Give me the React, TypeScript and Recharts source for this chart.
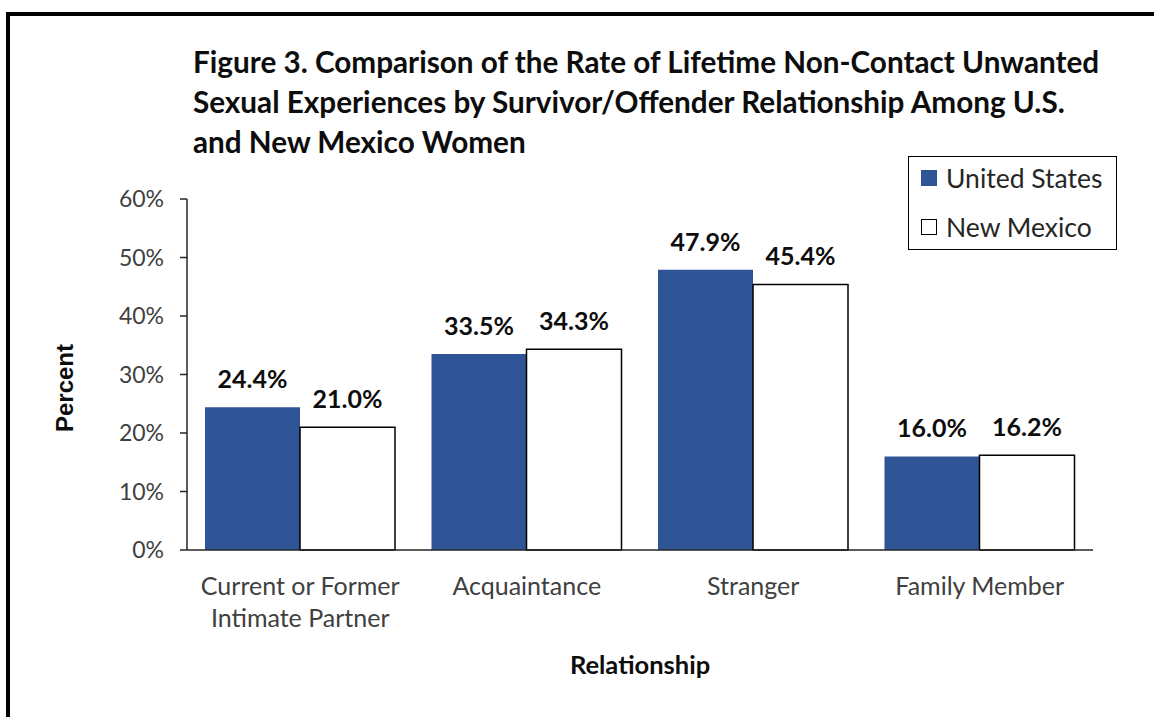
import { BarChart, Bar, XAxis, YAxis, LabelList } from "recharts";

// Figure 3 — lifetime non-contact unwanted sexual experiences, US vs NM women

const categories = [
  "Current or Former\nIntimate Partner",
  "Acquaintance",
  "Stranger",
  "Family Member",
];
const unitedStates = [24.4, 33.5, 47.9, 16.0];
const newMexico = [21.0, 34.3, 45.4, 16.2];
const yTicks = [0, 10, 20, 30, 40, 50, 60];
const edgeTicks = [0, 1, 2, 3, 4];

const titleLines = [
  "Figure 3. Comparison of the Rate of Lifetime Non-Contact Unwanted",
  "Sexual Experiences by Survivor/Offender Relationship Among U.S.",
  "and New Mexico Women",
];

const US_BLUE = "#2F5597";
const AXIS = "#262626";
const FONT = "Lato, 'Open Sans', sans-serif";

const data = categories.map((name, i) => ({
  name,
  us: unitedStates[i],
  nm: newMexico[i],
}));

function CategoryTick(props: any) {
  const { x, y, payload } = props;
  const lines = String(payload.value).split("\n");
  return (
    <text x={x} y={y} textAnchor="middle" fill="#404040" fontSize={25} fontFamily={FONT}>
      {lines.map((line, i) => (
        <tspan key={i} x={x} dy={i === 0 ? 37 : 32}>
          {line}
        </tspan>
      ))}
    </text>
  );
}

// legend drawn as a plain box so it doesn't eat into the plot area
function LegendBox() {
  const items = [
    { label: "United States", fill: US_BLUE, stroke: US_BLUE, h: 42 },
    { label: "New Mexico", fill: "#fff", stroke: "#000", h: 56 },
  ];
  return (
    <div
      style={{
        position: "absolute",
        left: 908,
        top: 156,
        width: 209,
        height: 94,
        border: "1.5px solid #000",
        background: "#fff",
        boxSizing: "border-box",
        fontFamily: FONT,
        fontSize: 26.5,
        color: "#262626",
        padding: "0 0 0 12px",
      }}
    >
      {items.map((it) => (
        <div key={it.label} style={{ display: "flex", alignItems: "center", height: it.h }}>
          <span
            style={{
              display: "inline-block",
              width: 16,
              height: 16,
              background: it.fill,
              border: `1.2px solid ${it.stroke}`,
              marginRight: 9,
              boxSizing: "border-box",
              flexShrink: 0,
            }}
          />
          {it.label}
        </div>
      ))}
    </div>
  );
}

export default function App() {
  return (
    <div
      style={{
        position: "absolute",
        left: 0,
        top: 0,
        width: 1154,
        height: 717,
        background: "#fff",
        overflow: "hidden",
      }}
    >
      <div
        style={{
          position: "absolute",
          left: 6,
          top: 12,
          width: 1200,
          height: 800,
          borderLeft: "4px solid #000",
          borderTop: "4px solid #000",
        }}
      />
      <div
        style={{
          position: "absolute",
          left: 193,
          top: 42,
          fontFamily: FONT,
          fontWeight: 700,
          fontSize: 29.7,
          lineHeight: "40px",
          color: "#0d0d0d",
          whiteSpace: "nowrap",
        }}
      >
        {titleLines.map((l) => (
          <div key={l}>{l}</div>
        ))}
      </div>
      <div style={{ position: "absolute", left: 0, top: 0 }}>
        <BarChart
          width={1154}
          height={717}
          data={data}
          margin={{ top: 199, right: 61, left: 107, bottom: 107 }}
          barCategoryGap={18}
          barGap={0}
        >
          <XAxis
            xAxisId="edges"
            type="number"
            domain={[0, 4]}
            ticks={edgeTicks}
            tick={false}
            axisLine={false}
            tickSize={7}
            tickLine={{ stroke: AXIS, strokeWidth: 1.5 }}
            height={0}
          />
          <XAxis
            xAxisId="cat"
            dataKey="name"
            tickLine={false}
            axisLine={{ stroke: AXIS, strokeWidth: 1.5 }}
            tick={<CategoryTick />}
            interval={0}
            height={60}
            label={{
              content: (p: any) => {
                const vb = p.viewBox;
                return (
                  <text
                    x={vb.x + vb.width / 2}
                    y={674}
                    textAnchor="middle"
                    fontFamily={FONT}
                    fontWeight={700}
                    fontSize={25.5}
                    fill="#0d0d0d"
                  >
                    Relationship
                  </text>
                );
              },
            }}
          />
          <YAxis
            type="number"
            domain={[0, 60]}
            ticks={yTicks}
            width={80}
            tickFormatter={(v: number) => `${v}%`}
            tickSize={7}
            tickMargin={16}
            tickLine={{ stroke: AXIS, strokeWidth: 1.5 }}
            axisLine={{ stroke: AXIS, strokeWidth: 1.5 }}
            tick={{ fill: "#404040", fontSize: 23, fontFamily: FONT }}
            label={{
              content: () => {
                const cx = 73;
                const cy = 388;
                return (
                  <text
                    x={cx}
                    y={cy}
                    transform={`rotate(-90 ${cx} ${cy})`}
                    textAnchor="middle"
                    fontFamily="'Liberation Sans', Arial, sans-serif"
                    fontWeight={700}
                    fontSize={24}
                    fill="#0d0d0d"
                  >
                    Percent
                  </text>
                );
              },
            }}
          />
          <Bar xAxisId="cat" dataKey="us" name="United States" fill={US_BLUE} isAnimationActive={false}>
            <LabelList
              dataKey="us"
              position="top"
              offset={19}
              formatter={(v: any) => `${Number(v).toFixed(1)}%`}
              style={{ fill: "#0d0d0d", fontSize: 25, fontWeight: 700, fontFamily: FONT }}
            />
          </Bar>
          <Bar
            xAxisId="cat"
            dataKey="nm"
            name="New Mexico"
            fill="#fff"
            stroke="#000"
            strokeWidth={1.5}
            isAnimationActive={false}
          >
            <LabelList
              dataKey="nm"
              position="top"
              offset={19}
              formatter={(v: any) => `${Number(v).toFixed(1)}%`}
              style={{ fill: "#0d0d0d", fontSize: 25, fontWeight: 700, fontFamily: FONT }}
            />
          </Bar>
        </BarChart>
      </div>
      <LegendBox />
    </div>
  );
}
